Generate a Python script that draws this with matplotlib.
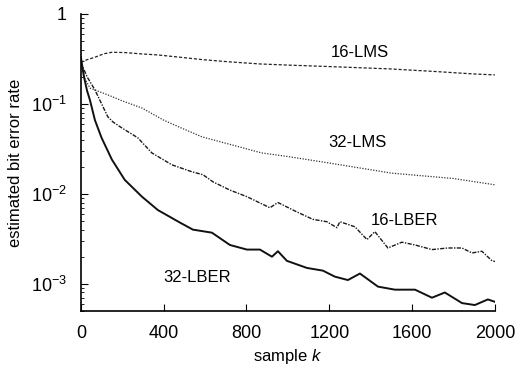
import numpy as np
import matplotlib.pyplot as plt
from matplotlib.ticker import LogLocator, NullFormatter, FixedLocator

# ---------------------------
# Data (sample k, estimated BER)
# ---------------------------
k_16lms = [0, 30, 68, 110, 150, 212, 290, 372, 480, 590, 720, 865, 1000, 1200, 1490, 1700, 1900, 2000]
ber_16lms = [0.29, 0.31, 0.33, 0.36, 0.375, 0.372, 0.36, 0.35, 0.33, 0.31, 0.293, 0.278, 0.27,
             0.26, 0.245, 0.23, 0.215, 0.21]

k_32lms = [0, 20, 44, 130, 200, 295, 400, 454, 585, 750, 873, 1000, 1200, 1500, 1800, 2000]
ber_32lms = [0.29, 0.19, 0.15, 0.126, 0.108, 0.09, 0.066, 0.058, 0.043, 0.034, 0.0285, 0.026,
             0.022, 0.017, 0.0148, 0.0126]

k_16lber = [0, 30, 68, 130, 155, 198, 275, 343, 440, 536, 590, 638, 720, 802, 913, 952, 1043,
            1121, 1188, 1237, 1251, 1324, 1382, 1420, 1483, 1551, 1614, 1696, 1773, 1841, 1889,
            1937, 1986, 2000]
ber_16lber = [0.29, 0.2, 0.143, 0.072, 0.063, 0.054, 0.042, 0.0285, 0.021, 0.0176, 0.0163, 0.0136,
              0.011, 0.0093, 0.0070, 0.0080, 0.0063, 0.0052, 0.0049, 0.0042, 0.0049, 0.0043,
              0.0031, 0.0038, 0.0025, 0.0029, 0.0027, 0.0024, 0.0025, 0.0025, 0.0022, 0.0023,
              0.0018, 0.00177]

k_32lber = [0, 15, 30, 44, 68, 100, 150, 212, 295, 372, 478, 541, 633, 720, 802, 865, 923, 952,
            995, 1092, 1169, 1227, 1290, 1348, 1435, 1517, 1614, 1696, 1758, 1841, 1903, 1966,
            2000]
ber_32lber = [0.33, 0.2, 0.14, 0.11, 0.066, 0.042, 0.024, 0.0143, 0.0093, 0.0066, 0.0048, 0.004,
              0.0037, 0.0027, 0.0024, 0.0024, 0.0020, 0.0023, 0.0018, 0.0015, 0.0014, 0.0012,
              0.0011, 0.0013, 0.00093, 0.00086, 0.00086, 0.00070, 0.00080, 0.00061, 0.00058,
              0.00067, 0.00063]

x_ticks = [0, 400, 800, 1200, 1600, 2000]

plt.rcParams.update({
    "font.family": ["Liberation Sans", "DejaVu Sans"],
    "mathtext.fontset": "custom",
    "mathtext.rm": "Liberation Sans",
    "mathtext.it": "Liberation Sans:italic",
    "font.size": 12,
})

fig = plt.figure(figsize=(5.15, 3.67), dpi=100)
ax = fig.add_axes([0.157, 0.153, 0.804, 0.809])

ax.plot(k_16lms, ber_16lms, color="#222222", linewidth=0.9, linestyle=(0, (2.5, 1.5)))
ax.plot(k_32lms, ber_32lms, color="#333333", linewidth=0.9, linestyle=(0, (1, 1.2)))
ax.plot(k_16lber, ber_16lber, color="#1a1a1a", linewidth=1.0, linestyle=(0, (3, 1, 1, 1)))
ax.plot(k_32lber, ber_32lber, color="#111111", linewidth=1.4)

ax.set_yscale("log")
ax.set_xlim(0, 2000)
ax.set_ylim(5e-4, 1)
ax.xaxis.set_major_locator(FixedLocator(x_ticks))
ax.set_yticks([1e-3, 1e-2, 1e-1, 1])
ax.set_yticklabels([r"$10^{-3}$", r"$10^{-2}$", r"$10^{-1}$", "1"])
ax.yaxis.set_minor_locator(LogLocator(base=10, subs=np.arange(2, 10)))
ax.yaxis.set_minor_formatter(NullFormatter())

for side in ["top", "right"]:
    ax.spines[side].set_visible(False)
ax.spines["left"].set_linewidth(1.2)
ax.spines["bottom"].set_linewidth(1.2)
ax.tick_params(which="both", direction="in", labelsize=13)
ax.tick_params(axis="x", which="major", length=5, pad=10)
ax.tick_params(axis="y", which="major", length=5, pad=10)
ax.tick_params(which="minor", length=2.5)

ax.set_xlabel("sample $k$", fontsize=12, labelpad=4)
ax.set_ylabel("estimated bit error rate", fontsize=12, labelpad=6)

ax.text(1348, 0.37, "16-LMS", fontsize=12, ha="center", va="center")
ax.text(1338, 0.037, "32-LMS", fontsize=12, ha="center", va="center")
ax.text(1565, 0.0051, "16-LBER", fontsize=12, ha="center", va="center")
ax.text(560, 0.00117, "32-LBER", fontsize=12, ha="center", va="center")

fig.savefig("out.png", dpi=100)
